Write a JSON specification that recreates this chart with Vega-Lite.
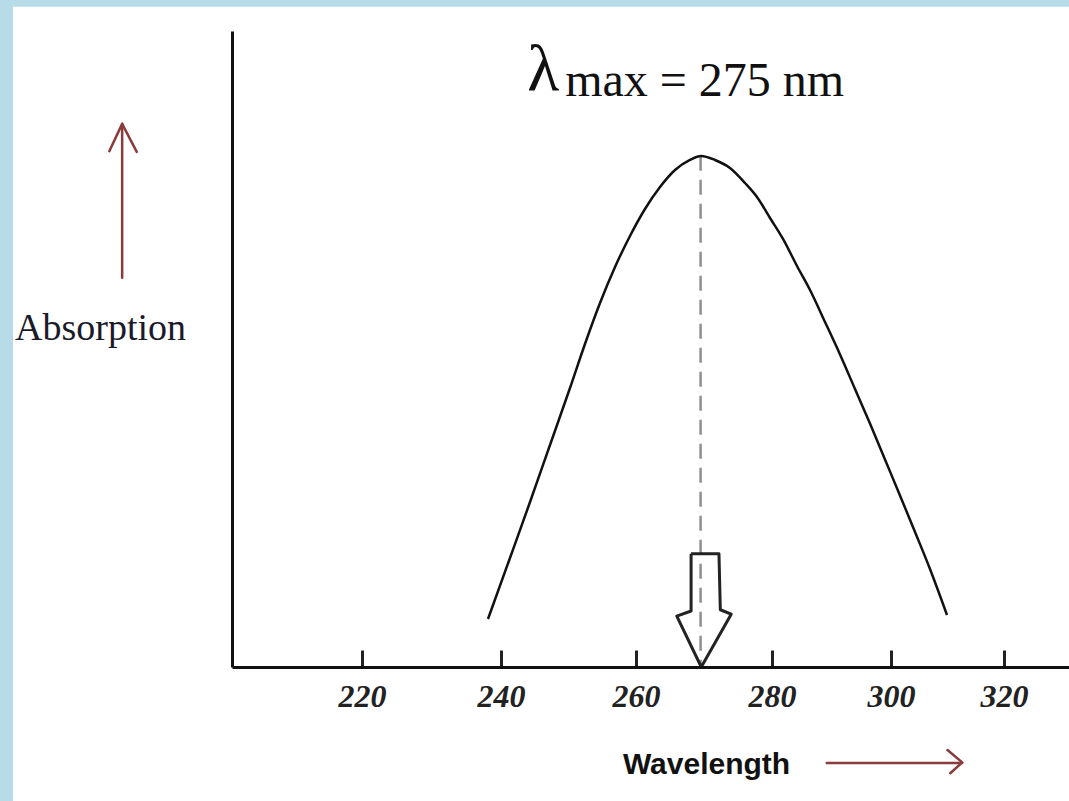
{
  "$schema": "https://vega.github.io/schema/vega-lite/v6.json",
  "width": 837,
  "height": 636,
  "autosize": {"type": "none"},
  "padding": {"left": 232, "top": 31, "right": 0, "bottom": 134},
  "background": "#b7dce7",
  "view": {"stroke": null},
  "datasets": {
    "bg": [{"x": 169.8, "x2": 345, "y": 103.8, "y2": -25}],
    "curve": [
      {"x": 238.13, "y": 7.55}, {"x": 241.33, "y": 17.14}, {"x": 244.3, "y": 25.94},
      {"x": 247.26, "y": 34.91}, {"x": 250.22, "y": 43.87}, {"x": 252.44, "y": 50.79},
      {"x": 254.67, "y": 57.23}, {"x": 256.89, "y": 62.89}, {"x": 259.11, "y": 67.77},
      {"x": 261.32, "y": 72.01}, {"x": 263.53, "y": 75.47}, {"x": 265.74, "y": 78.14},
      {"x": 267.94, "y": 79.72}, {"x": 269.56, "y": 80.35}, {"x": 271.62, "y": 79.72},
      {"x": 273.82, "y": 78.46}, {"x": 276.03, "y": 76.1}, {"x": 277.79, "y": 73.9},
      {"x": 279.71, "y": 70.6}, {"x": 281.85, "y": 67.3}, {"x": 284.2, "y": 63.05},
      {"x": 286.39, "y": 59.28}, {"x": 288.91, "y": 54.25}, {"x": 291.43, "y": 49.14},
      {"x": 293.95, "y": 43.71}, {"x": 296.47, "y": 38.29}, {"x": 298.99, "y": 32.63},
      {"x": 301.59, "y": 26.97}, {"x": 304.25, "y": 21.23}, {"x": 306.9, "y": 15.41},
      {"x": 309.91, "y": 8.18}
    ],
    "peak": [{"x": 269.5, "y": 80.4, "y2": 0}],
    "hollow": [
      {"o": 1, "x": 268.1, "y": 17.8}, {"o": 2, "x": 272.2, "y": 17.8},
      {"o": 3, "x": 272.4, "y": 9.0}, {"o": 4, "x": 274.0, "y": 8.3},
      {"o": 5, "x": 269.6, "y": 0}, {"o": 6, "x": 266.0, "y": 8.0},
      {"o": 7, "x": 268.1, "y": 8.8}, {"o": 8, "x": 268.1, "y": 17.8}
    ],
    "arrows": [
      {"part": "up-shaft", "o": 1, "x": 185.5, "y": 61.2},
      {"part": "up-shaft", "o": 2, "x": 185.5, "y": 85.4},
      {"part": "up-head", "o": 1, "x": 183.65, "y": 81.1},
      {"part": "up-head", "o": 2, "x": 185.5, "y": 85.4},
      {"part": "up-head", "o": 3, "x": 187.6, "y": 81.0},
      {"part": "right-shaft", "o": 1, "x": 289.2, "y": -15.1},
      {"part": "right-shaft", "o": 2, "x": 312.6, "y": -15.1},
      {"part": "right-head", "o": 1, "x": 310.0, "y": -13.05},
      {"part": "right-head", "o": 2, "x": 312.6, "y": -15.0},
      {"part": "right-head", "o": 3, "x": 310.5, "y": -16.7}
    ],
    "lambda": [{"x": 243.9, "y": 90.7, "t": "λ"}],
    "maxlabel": [{"x": 249.5, "y": 89.8, "t": "max = 275 nm"}]
  },
  "encoding": {
    "x": {
      "field": "x",
      "type": "quantitative",
      "scale": {
        "domain": [201.3, 220, 240, 260, 280, 300, 320, 331.6],
        "range": [0, 130, 269, 404, 540, 659, 772, 837],
        "zero": false,
        "nice": false
      },
      "axis": {
        "zindex": 1,
        "values": [220, 240, 260, 280, 300, 320],
        "grid": false,
        "tickSize": -17,
        "tickWidth": 3,
        "tickColor": "#222222",
        "domainColor": "#111111",
        "domainWidth": 3,
        "labelFont": "Liberation Serif",
        "labelFontStyle": "italic",
        "labelFontWeight": "bold",
        "labelFontSize": 32,
        "labelColor": "#222222",
        "labelPadding": 31,
        "labelFlush": false,
        "title": "Wavelength",
        "titleFont": "Liberation Sans",
        "titleFontWeight": "bold",
        "titleFontSize": 30,
        "titleColor": "#111111",
        "titleX": 474,
        "titleY": 106,
        "titleAlign": "center",
        "titleBaseline": "alphabetic"
      }
    },
    "y": {
      "field": "y",
      "type": "quantitative",
      "scale": {"domain": [0, 100], "zero": false, "nice": false},
      "axis": {
        "zindex": 1,
        "grid": false,
        "ticks": false,
        "labels": false,
        "domainColor": "#111111",
        "domainWidth": 3,
        "title": "Absorption",
        "titleFont": "Liberation Serif",
        "titleFontWeight": "normal",
        "titleFontSize": 38,
        "titleColor": "#1a1a2a",
        "titleAngle": 0,
        "titleX": -132,
        "titleY": 308,
        "titleAlign": "center",
        "titleBaseline": "alphabetic"
      }
    }
  },
  "layer": [
    {
      "data": {"name": "bg"},
      "mark": {"type": "rect", "fill": "white", "stroke": null},
      "encoding": {"x2": {"field": "x2"}, "y2": {"field": "y2"}}
    },
    {
      "data": {"name": "peak"},
      "mark": {"type": "rule", "color": "#8f8f8f", "strokeWidth": 2.5, "strokeDash": [15, 9]},
      "encoding": {"y2": {"field": "y2"}}
    },
    {
      "data": {"name": "curve"},
      "mark": {"type": "line", "color": "#111111", "strokeWidth": 2.5, "interpolate": "monotone"},
      "encoding": {}
    },
    {
      "data": {"name": "hollow"},
      "mark": {"type": "line", "color": "#222222", "strokeWidth": 3, "strokeJoin": "round"},
      "encoding": {"order": {"field": "o", "type": "quantitative"}}
    },
    {
      "data": {"name": "arrows"},
      "mark": {"type": "line", "color": "#8a3b3b", "strokeWidth": 2.5, "strokeCap": "round", "strokeJoin": "round"},
      "encoding": {
        "detail": {"field": "part", "type": "nominal"},
        "order": {"field": "o", "type": "quantitative"}
      }
    },
    {
      "data": {"name": "lambda"},
      "mark": {"type": "text", "font": "Liberation Serif", "fontSize": 66, "align": "left", "baseline": "alphabetic", "color": "#111111"},
      "encoding": {"text": {"field": "t"}}
    },
    {
      "data": {"name": "maxlabel"},
      "mark": {"type": "text", "font": "Liberation Serif", "fontSize": 48, "align": "left", "baseline": "alphabetic", "color": "#111111"},
      "encoding": {"text": {"field": "t"}}
    }
  ]
}
